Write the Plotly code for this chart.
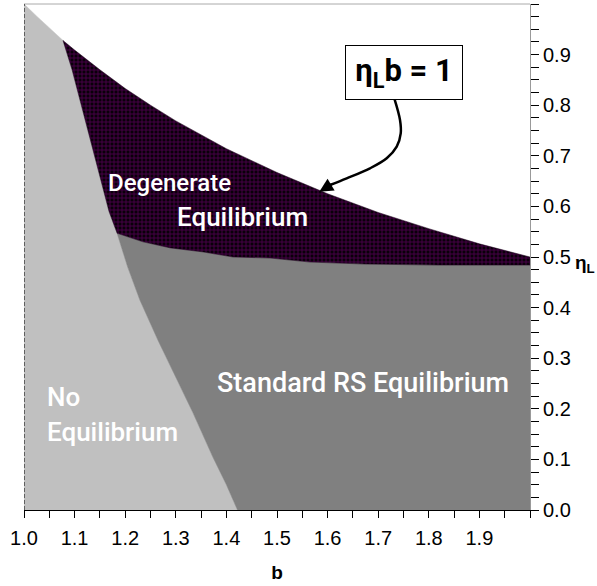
import plotly.graph_objects as go

# ---- data ----
# eta_L * b = 1 boundary
curve_b = [1.000, 1.025, 1.050, 1.077, 1.100, 1.150, 1.200, 1.250, 1.300, 1.400,
           1.500, 1.600, 1.700, 1.800, 1.900, 2.000]
curve_eta = [1.000, 0.976, 0.952, 0.928, 0.909, 0.870, 0.833, 0.800, 0.769, 0.714,
             0.667, 0.625, 0.588, 0.556, 0.526, 0.500]
# boundary between No Equilibrium and Degenerate Equilibrium
dark_left_b = [1.077, 1.095, 1.111, 1.127, 1.140, 1.155, 1.168, 1.184]
dark_left_eta = [0.928, 0.870, 0.810, 0.745, 0.698, 0.640, 0.590, 0.547]
# boundary between Degenerate and Standard RS Equilibrium
dark_low_b = [1.184, 1.235, 1.289, 1.354, 1.413, 1.486, 1.565, 1.674, 1.818, 2.000]
dark_low_eta = [0.547, 0.530, 0.518, 0.510, 0.500, 0.498, 0.490, 0.486, 0.484, 0.484]
# boundary between No Equilibrium and Standard RS Equilibrium
light_b = [1.184, 1.205, 1.229, 1.265, 1.302, 1.334, 1.373, 1.400, 1.422]
light_eta = [0.547, 0.480, 0.415, 0.335, 0.257, 0.192, 0.105, 0.050, 0.000]
# curved pointer from the label box to the curve
arrow_b = [1.7318, 1.7431, 1.7445, 1.7366, 1.7168, 1.6838, 1.6377, 1.6047]
arrow_eta = [0.8136, 0.7708, 0.7445, 0.7180, 0.6951, 0.6753, 0.6555, 0.6423]

x_ticks = [1.0, 1.1, 1.2, 1.3, 1.4, 1.5, 1.6, 1.7, 1.8, 1.9]
x_labels = ["1.0", "1.1", "1.2", "1.3", "1.4", "1.5", "1.6", "1.7", "1.8", "1.9"]
y_ticks = [0.0, 0.1, 0.2, 0.3, 0.4, 0.5, 0.6, 0.7, 0.8, 0.9]
y_labels = ["0.0", "0.1", "0.2", "0.3", "0.4", "0.5", "0.6", "0.7", "0.8", "0.9"]

LIGHT = "#c0c0c0"
MID = "#808080"

fig = go.Figure()

# No Equilibrium region
nx = [1.0] + curve_b[:4] + dark_left_b[1:] + light_b[1:] + [1.0]
ny = [0.0] + curve_eta[:4] + dark_left_eta[1:] + light_eta[1:] + [0.0]
fig.add_trace(go.Scatter(x=nx, y=ny, fill="toself", fillcolor=LIGHT, mode="lines",
                         line=dict(width=0.5, color=LIGHT), hoverinfo="skip", showlegend=False))

# Standard RS region
sx = dark_low_b + [2.0] + light_b[::-1][:-1] + [dark_low_b[0]]
sy = dark_low_eta + [0.0] + light_eta[::-1][:-1] + [dark_low_eta[0]]
fig.add_trace(go.Scatter(x=sx, y=sy, fill="toself", fillcolor=MID, mode="lines",
                         line=dict(width=0.5, color=MID), hoverinfo="skip", showlegend=False))

# Degenerate region
dx = curve_b[3:] + dark_low_b[::-1] + dark_left_b[::-1][1:]
dy = curve_eta[3:] + dark_low_eta[::-1] + dark_left_eta[::-1][1:]
fig.add_trace(go.Scatter(x=dx, y=dy, fill="toself", fillcolor="#0a000a", mode="lines",
                         fillpattern=dict(shape="+", fgcolor="#8a008a", bgcolor="#0a000a",
                                          size=4, solidity=0.4),
                         line=dict(width=0.5, color="#1a001a"), hoverinfo="skip", showlegend=False))

# curved pointer
fig.add_trace(go.Scatter(x=arrow_b, y=arrow_eta, mode="lines",
                         line=dict(color="black", width=2.5, shape="spline"),
                         hoverinfo="skip", showlegend=False))

ann = [
    dict(x=1.2866, y=0.646, text="Degenerate", size=24),
    dict(x=1.4318, y=0.579, text="Equilibrium", size=26),
    dict(x=1.0415, y=0.2233, text="No", xanchor="left", size=26),
    dict(x=1.0415, y=0.154, text="Equilibrium", xanchor="left", size=26),
    dict(x=1.669, y=0.251, text="Standard RS Equilibrium", size=27),
]
for a in ann:
    sz = a.pop("size")
    fig.add_annotation(xref="x", yref="y", showarrow=False,
                       font=dict(family="Roboto", size=sz, color="white", weight=500), **a)

# label box
fig.add_annotation(xref="x", yref="y", x=1.751, y=0.865, showarrow=False,
                   text="<b>η<sub>L</sub>b = 1</b>",
                   font=dict(family="Roboto", size=31, color="black"),
                   bordercolor="black", borderwidth=1, bgcolor="white",
                   width=114, height=51, borderpad=1)
# arrow head
fig.add_annotation(xref="x", yref="y", axref="x", ayref="y",
                   x=1.5836, y=0.6291, ax=1.6100, ay=0.6450, text="",
                   showarrow=True, arrowhead=2, arrowsize=1.1, arrowwidth=2.5,
                   arrowcolor="black")

# eta_L axis title
fig.add_annotation(xref="paper", yref="y", x=1.084, y=0.486, xanchor="left",
                   showarrow=False, text="<b>η<sub>L</sub></b>",
                   font=dict(family="Liberation Sans", size=19, color="black"))

# top border and left dashed edge
fig.add_shape(type="line", xref="paper", yref="paper", x0=0, x1=1, y0=1, y1=1,
              line=dict(color="#aaaaaa", width=1), layer="above")
fig.add_shape(type="line", xref="x", yref="y", x0=1.0, x1=1.0, y0=0, y1=1,
              line=dict(color="black", width=1, dash="4px,2px"), layer="above")

fig.update_layout(
    width=597, height=586,
    margin=dict(l=24, r=67, t=4, b=76, autoexpand=False),
    paper_bgcolor="white", plot_bgcolor="white",
    font=dict(family="Liberation Sans", size=20, color="black"),
    xaxis=dict(range=[1.0, 2.0], tickmode="array", tickvals=x_ticks, ticktext=x_labels,
               ticks="outside", ticklen=7, tickcolor="black", showgrid=False, zeroline=False,
               showline=True, linecolor="black", linewidth=1, automargin=False,
               ticklabelstandoff=3,
               minor=dict(tickmode="linear", tick0=1.0, dtick=0.05, ticks="outside",
                          ticklen=7, tickcolor="black", showgrid=False),
               title=dict(text="<b>b</b>", font=dict(size=19), standoff=17),
               tickfont=dict(size=20)),
    yaxis=dict(range=[0, 1], side="right", tickmode="array", tickvals=y_ticks, ticktext=y_labels,
               ticks="outside", ticklen=8, tickcolor="black", showgrid=False, zeroline=False,
               showline=True, linecolor="#999999", linewidth=1, automargin=False,
               minor=dict(tickmode="linear", tick0=0, dtick=0.025, ticks="outside",
                          ticklen=8, tickcolor="black", showgrid=False),
               tickfont=dict(size=20)),
)

fig.write_html("out.html", config={"displayModeBar": False},
               post_script="document.body.style.margin='0px';document.body.style.overflow='hidden';")
